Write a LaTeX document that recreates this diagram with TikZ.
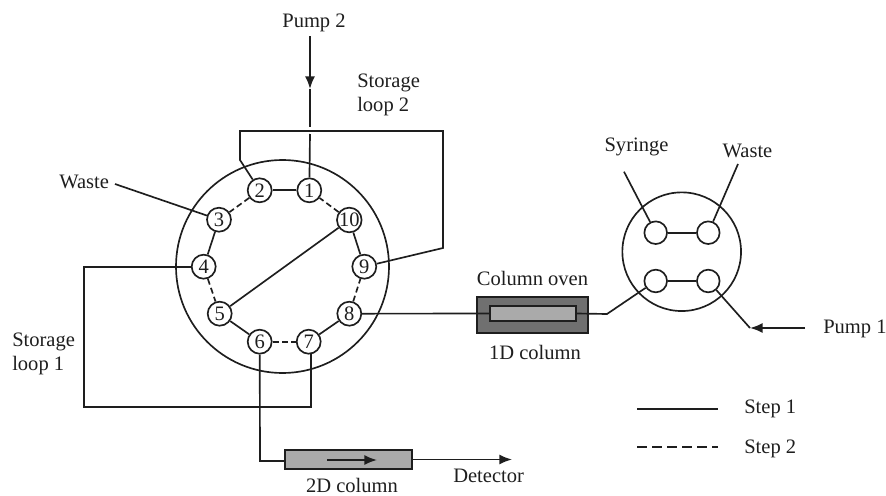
\documentclass[tikz,border=0pt]{standalone}
\usepackage{fontspec}
\setmainfont{Liberation Serif}
\usetikzlibrary{arrows.meta,positioning}
\definecolor{OvenDark}{RGB}{112,112,112}
\definecolor{ColumnGray}{RGB}{170,170,170}
\definecolor{LineBlack}{RGB}{30,30,30}
\tikzset{
  every node/.style={font=\fontsize{15.4}{18}\selectfont,text=LineBlack},
  port/.style={circle,draw=LineBlack,line width=1.25pt,minimum size=18pt,inner sep=0pt},
  bigport/.style={circle,draw=LineBlack,line width=1.25pt,minimum size=17pt,inner sep=0pt},
  valve/.style={circle,draw=LineBlack,line width=1.25pt,inner sep=0pt},
  caption/.style={inner sep=0pt,align=left},
  pipe/.style={draw=LineBlack,line width=1.25pt},
  stepb/.style={draw=LineBlack,line width=1.25pt,dash pattern=on 4.5pt off 2.6pt},
  legenddash/.style={draw=LineBlack,line width=1.4pt,dash pattern=on 7.5pt off 3.8pt},
  arrow/.style={-{Latex[length=9.5pt,width=7.5pt]},draw=LineBlack,line width=1.25pt}
}

\begin{document}
\begin{tikzpicture}[x=0.75pt,y=-0.75pt]
      \useasboundingbox (0,0) rectangle (886,496);
      % ten port valve
      \node[valve,minimum size=159.75pt] (valveA) at (282.5,266.5) {};
      \node[port] (p1) at (309.3,190.3) {1};
      \node[port] (p2) at (259.7,190.3) {2};
      \node[port] (p3) at (219,219.7) {3};
      \node[port] (p4) at (203.7,266.7) {4};
      \node[port] (p5) at (219.7,313.7) {5};
      \node[port] (p6) at (259.7,341.7) {6};
      \node[port] (p7) at (308.7,341.7) {7};
      \node[port] (p8) at (349.3,313.7) {8};
      \node[port] (p9) at (364.3,266.7) {9};
      \node[port] (p10) at (349.3,220) {10};
      % six port valve
      \node[valve,minimum size=89pt] (valveB) at (681.7,251.7) {};
      \node[bigport] (s1) at (655.7,232.7) {};
      \node[bigport] (s2) at (708.3,232.7) {};
      \node[bigport] (s3) at (655.7,281) {};
      \node[bigport] (s4) at (708.3,281) {};
      % columns
      \node[draw=LineBlack,line width=1.25pt,fill=OvenDark,minimum width=83pt,minimum height=27pt,inner sep=0pt] (oven) at (532.5,315) {};
      \node[draw=LineBlack,line width=1.25pt,fill=ColumnGray,minimum width=64.5pt,minimum height=11.5pt,inner sep=0pt] (col1) at (533,313.5) {};
      \node[draw=LineBlack,line width=1.25pt,fill=ColumnGray,minimum width=95pt,minimum height=14pt,inner sep=0pt] (col2) at (348.5,459.5) {};
      % labels
      \node[caption] (pump2) at (314,23) {Pump 2};
      \node[caption,anchor=west] (loop2) at (357,95) {Storage\\loop 2};
      \node[caption,anchor=west] (loop1) at (12,354) {Storage\\loop 1};
      \node[caption,anchor=west] (waste1) at (59,182) {Waste};
      \node[caption] (syringe) at (636.5,147) {Syringe};
      \node[caption] (waste2) at (747.5,151) {Waste};
      \node[caption] (ovenlabel) at (532.5,278) {Column oven};
      \node[caption] (col1label) at (535,352) {1D column};
      \node[caption,anchor=west] (pump1) at (823,329) {Pump 1};
      \node[caption] (col2label) at (352,485.5) {2D column};
      \node[caption,anchor=west] (detector) at (453,476) {Detector};
      \node[caption,anchor=west] (step1) at (744,409) {Step 1};
      \node[caption,anchor=west] (step2) at (744,449) {Step 2};
      % free ends and bends
      \coordinate (pumpA) at (310,36);
      \coordinate (pumpB) at (310,89);
      \coordinate (pumpC) at (310,127);
      \coordinate (pumpD) at (310,134);
      \coordinate (loopA) at (240,131);
      \coordinate (loopB) at (443,131);
      \coordinate (loopC) at (443,248);
      \coordinate (loopD) at (240,160);
      \coordinate (loopE) at (84,266.7);
      \coordinate (loopF) at (84,407);
      \coordinate (loopG) at (311,407);
      \coordinate (loopH) at (311,353.5);
      \coordinate (wasteA) at (115,184);
      \coordinate (bendA) at (260,461);
      \coordinate (bendB) at (607,314);
      \coordinate (bendC) at (750,328);
      \coordinate (pumpE) at (805,328);
      \coordinate (syrA) at (624,171.7);
      \coordinate (wasteB) at (738,164);
      \coordinate (flowA) at (327,460);
      \coordinate (flowB) at (377,460);
      \coordinate (detA) at (512,459.5);
      \coordinate (legA) at (637,409);
      \coordinate (legB) at (718,409);
      \coordinate (legC) at (637,447);
      \coordinate (legD) at (718,447);
      % step 1 links
      \foreach \a/\b in {p1/p2,p3/p4,p5/p6,p7/p8,p9/p10,p5/p10,s1/s2,s3/s4}
        \draw[pipe] (\a) -- (\b);
      % step 2 links
      \foreach \a/\b in {p2/p3,p4/p5,p6/p7,p8/p9,p10/p1}
        \draw[stepb] (\a) -- (\b);
      % tubing
      \draw[arrow] (pumpA) -- (pumpB);
      \draw[pipe] (pumpB) -- (pumpC);
      \draw[pipe] (pumpD) -- (p1);
      \draw[pipe] (p2) -- (loopD) -- (loopA) -- (loopB) -- (loopC) -- (p9);
      \draw[pipe] (p4) -- (loopE) -- (loopF) -- (loopG) -- (loopH);
      \draw[pipe] (wasteA) -- (p3);
      \draw[pipe] (p6) -- (bendA) -- (col2.west |- bendA);
      \draw[arrow] (col2.east) -- (detA);
      \draw[arrow] (flowA) -- (flowB);
      \draw[pipe] (p8) -- (col1.west);
      \draw[pipe] (col1.east) -- (bendB) -- (s3);
      \draw[pipe] (syrA) -- (s1);
      \draw[pipe] (wasteB) -- (s2);
      \draw[pipe] (s4) -- (bendC);
      \draw[arrow] (pumpE) -- (bendC);
      % legend
      \draw[pipe,line width=1.6pt] (legA) -- (legB);
      \draw[legenddash] (legC) -- (legD);
    \end{tikzpicture}
\end{document}
